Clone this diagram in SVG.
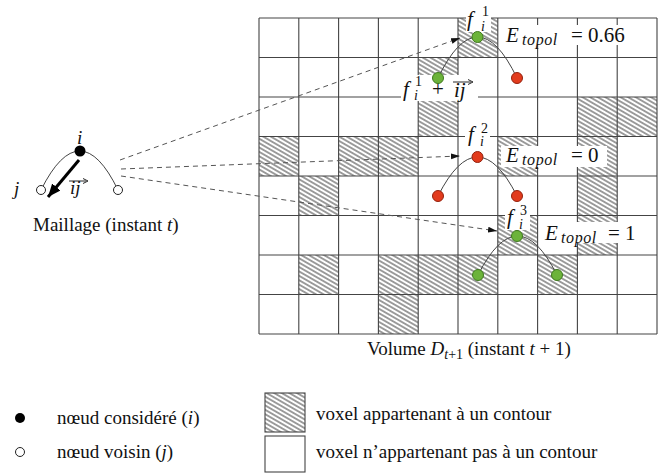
<svg xmlns="http://www.w3.org/2000/svg" width="664" height="473" viewBox="0 0 664 473">
<style>
text{font-family:"Liberation Serif","Times New Roman",serif;fill:#111}
.t{font-family:"Liberation Serif","Times New Roman",serif;font-size:19px}
.it{font-style:italic}
.big{font-family:"Liberation Serif","Times New Roman",serif;font-size:21px}
.sub{font-family:"Liberation Serif","Times New Roman",serif;font-size:16px;font-style:italic;letter-spacing:0.6px}
.sm{font-family:"Liberation Serif","Times New Roman",serif;font-size:14px}
.grid{fill:none;stroke:#444;stroke-width:1.1}
.hat{fill:url(#hatch);stroke:none}
.bg{fill:#fff;stroke:none}
.dash{fill:none;stroke:#555;stroke-width:1;stroke-dasharray:5 4}
.arc{fill:none;stroke:#444;stroke-width:1}
.gn{fill:#6cb33a;stroke:#3f7a1e;stroke-width:1}
.rd{fill:#e23b1d;stroke:#93210d;stroke-width:1}
</style>
<defs>
<pattern id="hatch" patternUnits="userSpaceOnUse" width="4" height="3.8" patternTransform="rotate(30)">
<line x1="-1" y1="1.9" x2="5" y2="1.9" stroke="#222" stroke-width="0.9"/>
</pattern>
<marker id="ah" markerUnits="userSpaceOnUse" markerWidth="10" markerHeight="8" refX="9" refY="4" orient="auto">
<path d="M0 1 L9 4 L0 7 Z" fill="#111"/>
</marker>
<marker id="ahBig" markerUnits="userSpaceOnUse" markerWidth="14" markerHeight="12" refX="13" refY="6" orient="auto">
<path d="M0 0.5 L13 6 L0 11.5 Z" fill="#000"/>
</marker>
</defs>
<rect x="0" y="0" width="664" height="473" fill="#fff"/>

<g id="volume">
<rect class="hat" x="458" y="18" width="39.8" height="39.5"/>
<rect class="hat" x="418.2" y="57.5" width="39.8" height="39.5"/>
<rect class="hat" x="418.2" y="97" width="39.8" height="39.5"/>
<rect class="hat" x="577.4" y="97" width="39.8" height="39.5"/>
<rect class="hat" x="617.2" y="97" width="39.8" height="39.5"/>
<rect class="hat" x="259" y="136.5" width="39.8" height="39.5"/>
<rect class="hat" x="338.6" y="136.5" width="39.8" height="39.5"/>
<rect class="hat" x="378.4" y="136.5" width="39.8" height="39.5"/>
<rect class="hat" x="497.8" y="136.5" width="39.8" height="39.5"/>
<rect class="hat" x="577.4" y="136.5" width="39.8" height="39.5"/>
<rect class="hat" x="298.8" y="176" width="39.8" height="39.5"/>
<rect class="hat" x="577.4" y="176" width="39.8" height="39.5"/>
<rect class="hat" x="497.8" y="215.5" width="39.8" height="39.5"/>
<rect class="hat" x="577.4" y="215.5" width="39.8" height="39.5"/>
<rect class="hat" x="298.8" y="255" width="39.8" height="39.5"/>
<rect class="hat" x="378.4" y="255" width="39.8" height="39.5"/>
<rect class="hat" x="418.2" y="255" width="39.8" height="39.5"/>
<rect class="hat" x="458" y="255" width="39.8" height="39.5"/>
<rect class="hat" x="537.6" y="255" width="39.8" height="39.5"/>
<rect class="hat" x="378.4" y="294.5" width="39.8" height="39.5"/>
<path class="grid" d="M259 18V334M298.8 18V334M338.6 18V334M378.4 18V334M418.2 18V334M458 18V334M497.8 18V334M537.6 18V334M577.4 18V334M617.2 18V334M657 18V334M259 18H657M259 57.5H657M259 97H657M259 136.5H657M259 176H657M259 215.5H657M259 255H657M259 294.5H657M259 334H657"/>
<text class="t" x="367" y="355">Volume <tspan class="it">D</tspan><tspan class="sm" dy="4"><tspan class="it">t</tspan>+1</tspan><tspan dy="-4"> (instant </tspan><tspan class="it">t</tspan> + 1)</text>
</g>

<g id="label-bgs">
<rect class="bg" x="466" y="5" width="25" height="27"/>
<rect class="bg" x="401" y="75" width="77" height="26"/>
<rect class="bg" x="502" y="25" width="136" height="20"/>
<rect class="bg" x="465" y="121" width="25" height="25"/>
<rect class="bg" x="501" y="146" width="106" height="21"/>
<rect class="bg" x="505" y="203" width="25" height="27"/>
<rect class="bg" x="543" y="222" width="104" height="21"/>
</g>

<g id="connectors">
<path class="dash" d="M120 160 L460 38" marker-end="url(#ah)"/>
<path class="dash" d="M121 169 L460 156" marker-end="url(#ah)"/>
<path class="dash" d="M121 176 L497 231" marker-end="url(#ah)"/>
<path class="arc" d="M41 190 Q80 112 118 190"/>
<path class="arc" d="M438 78 Q477.5 -4 517 78"/>
<path class="arc" d="M438 196 Q477.5 118 517 196"/>
<path class="arc" d="M478 275 Q517.5 197 557 275"/>
<path d="M79 160 L48 197" fill="none" stroke="#000" stroke-width="3" marker-end="url(#ahBig)"/>
</g>

<g id="mesh">
<circle cx="80" cy="151" r="5.5" fill="#000"/>
<circle cx="41" cy="190" r="4.5" fill="#fff" stroke="#222" stroke-width="1"/>
<circle cx="118" cy="190" r="4.5" fill="#fff" stroke="#222" stroke-width="1"/>
<text class="t it" x="77" y="144">i</text>
<text class="t it" x="14" y="195">j</text>
<text class="t it" x="70" y="194">ij</text>
<path d="M69 181 H86" stroke="#111" stroke-width="0.9"/>
<path d="M83 178.5 L88 181 L83 183.5" fill="none" stroke="#111" stroke-width="0.9"/>
<text class="t" x="33" y="231">Maillage (instant <tspan class="it">t</tspan>)</text>
</g>

<g id="f1">
<circle class="gn" cx="477.5" cy="37" r="5.5"/>
<circle class="gn" cx="438" cy="78" r="5.5"/>
<circle class="rd" cx="517" cy="78" r="5.5"/>
<text class="big it" x="467" y="26">f</text>
<text class="sm" x="482" y="16">1</text>
<text class="sm it" x="481" y="31">i</text>
<text class="big it" x="506" y="42">E</text>
<text class="sub" x="522" y="45">topol</text>
<text class="big" x="571" y="42">= 0.66</text>
</g>

<g id="f1ij">
<text class="big it" x="403" y="96">f</text>
<text class="sm" x="415" y="86">1</text>
<text class="sm it" x="414" y="100">i</text>
<text class="big" x="432" y="96">+</text>
<text class="big it" x="454" y="97">ij</text>
<path d="M453 82 H471" stroke="#111" stroke-width="0.9"/>
<path d="M468 79.5 L473 82 L468 84.5" fill="none" stroke="#111" stroke-width="0.9"/>
</g>

<g id="f2">
<circle class="rd" cx="477.5" cy="157" r="5.5"/>
<circle class="rd" cx="438" cy="196" r="5.5"/>
<circle class="rd" cx="517" cy="196" r="5.5"/>
<text class="big it" x="468" y="141">f</text>
<text class="sm" x="481" y="133">2</text>
<text class="sm it" x="480" y="146">i</text>
<text class="big it" x="506" y="162">E</text>
<text class="sub" x="522" y="165">topol</text>
<text class="big" x="571" y="162">= 0</text>
</g>

<g id="f3">
<circle class="gn" cx="517" cy="236" r="5.5"/>
<circle class="gn" cx="478" cy="275" r="5.5"/>
<circle class="gn" cx="557" cy="275" r="5.5"/>
<text class="big it" x="507" y="224">f</text>
<text class="sm" x="520" y="215">3</text>
<text class="sm it" x="519" y="229">i</text>
<text class="big it" x="545" y="240">E</text>
<text class="sub" x="561" y="243">topol</text>
<text class="big" x="608" y="240">= 1</text>
</g>

<g id="legend">
<circle cx="20" cy="418" r="5" fill="#000"/>
<circle cx="20" cy="452" r="4.5" fill="#fff" stroke="#222" stroke-width="1"/>
<text class="t" x="57" y="424">nœud considéré (<tspan class="it">i</tspan>)</text>
<text class="t" x="57" y="458">nœud voisin (<tspan class="it">j</tspan>)</text>
<rect class="hat" x="265" y="393" width="40" height="39"/>
<rect x="265" y="393" width="40" height="39" fill="none" stroke="#444" stroke-width="1.1"/>
<rect x="265" y="436" width="40" height="36" fill="#fff" stroke="#444" stroke-width="1.1"/>
<text class="t" x="316" y="420">voxel appartenant à un contour</text>
<text class="t" x="316" y="458">voxel n’appartenant pas à un contour</text>
</g>
</svg>
